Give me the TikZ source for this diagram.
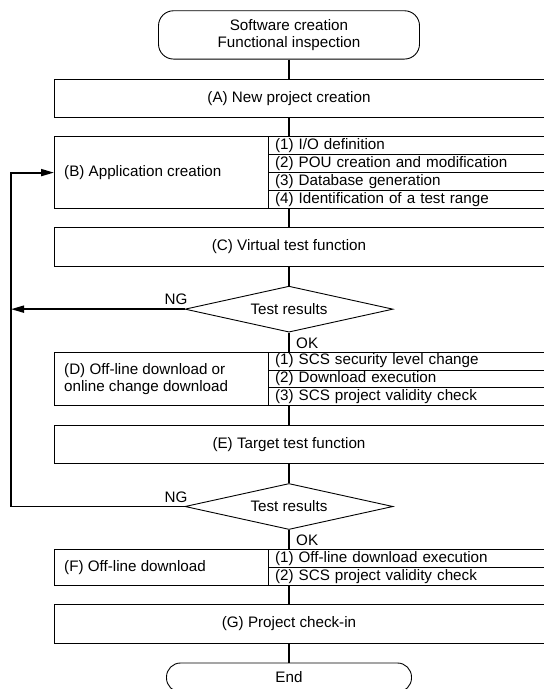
\documentclass[tikz,border=0pt]{standalone}
\usepackage{fontspec}
\setmainfont{Liberation Sans}
\usetikzlibrary{arrows.meta,positioning,chains,shapes.geometric}
\edef\rowh{17.85pt}
\tikzstyle{term}=[draw,line width=0.9pt,rounded corners=15pt,align=center,inner sep=0pt]
\tikzstyle{blk}=[inner sep=0pt,minimum height=38pt]
\tikzstyle{item}=[draw,line width=0.9pt,anchor=north west,minimum height=\rowh,text width=290pt,inner xsep=7pt,inner ysep=0pt,outer sep=0pt,align=left]
\tikzstyle{test}=[draw,line width=0.9pt,diamond,aspect=4.5,minimum width=208pt,minimum height=46pt,inner sep=0pt]
\tikzstyle{link}=[draw,line width=1.4pt]
\tikzstyle{loopline}=[draw,line width=1.8pt,-{Triangle[length=13pt,width=7pt]}]
\tikzstyle{lbl}=[inner sep=0pt]

\begin{document}
\begin{tikzpicture}[x=1pt,y=-1pt,font=\fontsize{15.2}{17}\selectfont]
	\useasboundingbox (0,0) rectangle (544,689);
	\clip (0,0) rectangle (544,689);
	\coordinate (lft) at (54,0);
	\coordinate (rgt) at (560,0);
	\coordinate (mid) at (268,0);
	\coordinate (back) at (11,0);
	
	\begin{scope}[shift={(289,34.9)},start chain=flow going below,node distance=19.5pt]
	\node [on chain=flow,term,minimum width=261pt,minimum height=48.3pt] (start) {Software creation\\Functional inspection};
	\node [on chain=flow,blk] (A) {(A) New project creation};
	\node [on chain=flow,blk,minimum height=4*\rowh,outer sep=0pt] (B) {};
	\node [on chain=flow,blk] (C) {(C) Virtual test function};
	\node [on chain=flow,test] (T1) {Test results};
	\node [on chain=flow,blk,minimum height=3*\rowh,outer sep=0pt] (D) {};
	\node [on chain=flow,blk] (E) {(E) Target test function};
	\node [on chain=flow,test] (T2) {Test results};
	\node [on chain=flow,blk,minimum height=2*\rowh,outer sep=0pt] (F) {};
	\node [on chain=flow,blk] (G) {(G) Project check-in};
	\node [on chain=flow,term,minimum width=245pt,minimum height=29pt,rounded corners=14pt] (stop) {End};
	\end{scope}
	
	% frames of the steps
	\foreach \n in {A,B,C,D,E,F,G}
		\draw[line width=0.9pt] (lft |- \n.north) rectangle (rgt |- \n.south);
	
	\node[lbl,anchor=west,xshift=10pt] (Bt) at (lft |- B) {(B) Application creation};
	\node[item] (B1) at (mid |- B.north) {(1) I/O definition};
	\node[item] (B2) at (B1.south west) {(2) POU creation and modification};
	\node[item] (B3) at (B2.south west) {(3) Database generation};
	\node[item] (B4) at (B3.south west) {(4) Identification of a test range};
	
	\node[lbl,anchor=west,xshift=10pt,align=left] (Dt) at (lft |- D) {(D) Off-line download or\\online change download};
	\node[item] (D1) at (mid |- D.north) {(1) SCS security level change};
	\node[item] (D2) at (D1.south west) {(2) Download execution};
	\node[item] (D3) at (D2.south west) {(3) SCS project validity check};
	
	\node[lbl,anchor=west,xshift=10pt] (Ft) at (lft |- F) {(F) Off-line download};
	\node[item] (F1) at (mid |- F.north) {(1) Off-line download execution};
	\node[item] (F2) at (F1.south west) {(2) SCS project validity check};
	
	% flow
	\foreach \a/\b in {start/A,A/B,B/C,C/T1,T1/D,D/E,E/T2,T2/F,F/G,G/stop}
		\draw[link] (\a) -- (\b);
	
	\node[lbl,anchor=south east,xshift=3pt,yshift=4pt] (ng1) at (T1.west) {NG};
	\node[lbl,anchor=north west,xshift=7pt,yshift=-5pt] (ok1) at (T1.south) {OK};
	\node[lbl,anchor=south east,xshift=3pt,yshift=4pt] (ng2) at (T2.west) {NG};
	\node[lbl,anchor=north west,xshift=7pt,yshift=-5pt] (ok2) at (T2.south) {OK};
	
	% back to (B)
	\coordinate (Bin) at (lft |- B);
	\draw[loopline] (T2.west) -- (T2.west -| back) |- (Bin);
	\draw[loopline] (T1.west) -- (T1.west -| back);
\end{tikzpicture}
\end{document}
